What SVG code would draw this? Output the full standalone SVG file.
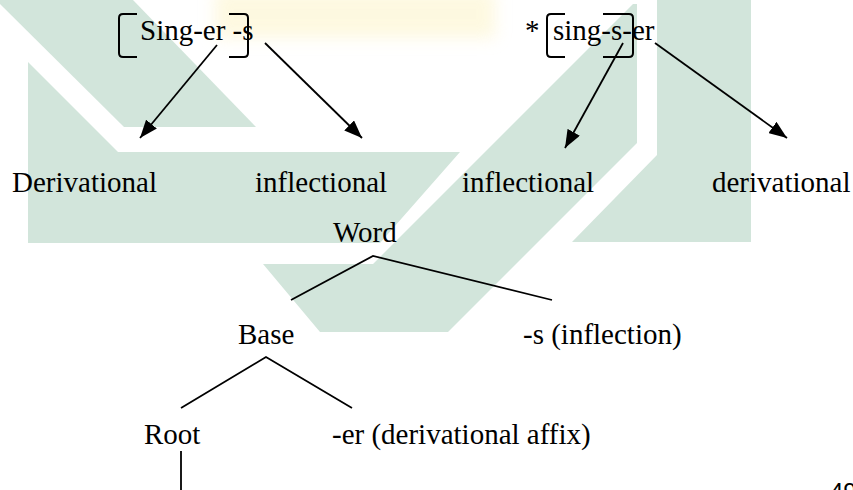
<svg xmlns="http://www.w3.org/2000/svg" width="853" height="490" viewBox="0 0 853 490">
<style>
  .t { font-family: "Liberation Serif", "Times New Roman", serif; font-size: 29px; fill: #000; }
  .ln { stroke: #000; stroke-width: 1.8; fill: none; }
  .br { stroke: #000; stroke-width: 2; fill: none; }
  .wm { fill: #d2e5db; }
</style>
<defs>
  <marker id="ah" viewBox="0 0 18 14" refX="18" refY="7" markerWidth="18" markerHeight="14" markerUnits="userSpaceOnUse" orient="auto">
    <path d="M0,0 L18,7 L0,14 z" fill="#000"/>
  </marker>
  <filter id="blur" x="-20%" y="-50%" width="140%" height="200%">
    <feGaussianBlur stdDeviation="8"/>
  </filter>
</defs>
<rect width="853" height="490" fill="#fff"/>
<g id="watermark">
  <rect x="215" y="-10" width="280" height="48" fill="#fdf4c8" opacity="0.55" filter="url(#blur)"/>
  <polygon class="wm" points="0,0 133,0 256,127 124,127 0,4"/>
  <polygon class="wm" points="28,62 118,152 460,152 380,243 28,243"/>
  <polygon class="wm" points="263,264 373,264 633,4 637,4 637,143 448,332 320,332"/>
  <polygon class="wm" points="657,0 751,0 751,242 572,242 657,155"/>
</g>
<g id="connectors">
  <line class="ln" x1="217" y1="45" x2="140" y2="138" marker-end="url(#ah)"/>
  <line class="ln" x1="265" y1="43" x2="362" y2="138" marker-end="url(#ah)"/>
  <line class="ln" x1="623" y1="43" x2="565" y2="148" marker-end="url(#ah)"/>
  <line class="ln" x1="655" y1="43" x2="787" y2="138" marker-end="url(#ah)"/>
  <polyline class="ln" points="291,300 373,256 552,300"/>
  <polyline class="ln" points="181,408 266,357 352,408"/>
  <line class="ln" x1="181" y1="451" x2="181" y2="490"/>
</g>
<g id="node-singers">
  <path class="br" d="M137,14 H123 Q119,14 119,18 V53 Q119,57 123,57 H137"/>
  <path class="br" d="M229,14 H244 Q248,14 248,18 V53 Q248,57 244,57 H229"/>
  <text class="t" x="140" y="40">Sing-er -s</text>
</g>
<g id="node-singser">
  <text class="t" x="525" y="40">*</text>
  <path class="br" d="M565,14 H551 Q547,14 547,18 V53 Q547,57 551,57 H565"/>
  <path class="br" d="M603,14 H629 Q633,14 633,18 V53 Q633,57 629,57 H603"/>
  <text class="t" x="553" y="40">sing-s-er</text>
</g>
<g id="node-derivational-1"><text class="t" x="12" y="192">Derivational</text></g>
<g id="node-inflectional-1"><text class="t" x="255" y="192">inflectional</text></g>
<g id="node-inflectional-2"><text class="t" x="462" y="192">inflectional</text></g>
<g id="node-derivational-2"><text class="t" x="712" y="192">derivational</text></g>
<g id="node-word"><text class="t" x="333" y="242">Word</text></g>
<g id="node-base"><text class="t" x="238" y="344">Base</text></g>
<g id="node-s-inflection"><text class="t" x="523" y="344">-s (inflection)</text></g>
<g id="node-root"><text class="t" x="144" y="444">Root</text></g>
<g id="node-er-affix"><text class="t" x="332" y="444">-er (derivational affix)</text></g>
<text x="830" y="500" font-family="Liberation Sans, Arial, sans-serif" font-size="24" fill="#000">49</text>
</svg>
